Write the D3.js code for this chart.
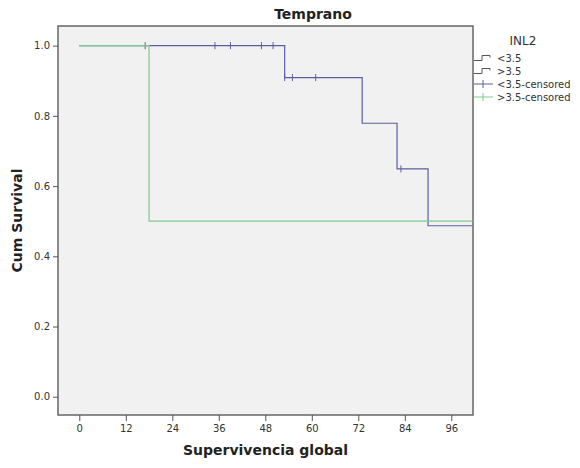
<!DOCTYPE html>
<html>
<head>
<meta charset="utf-8">
<script src="https://cdn.jsdelivr.net/npm/d3@7"></script>
<style>
  body { margin: 0; background: #fff; }
  text { font-family: "DejaVu Sans", sans-serif; fill: #333; }
</style>
</head>
<body>
<script>
// Kaplan-Meier steps
var lowTime = [0, 53, 73, 82, 90, 101.5],
    lowSurv = [1.0, 0.909, 0.779, 0.649, 0.487, 0.487],
    lowCensored = [17, 35, 39, 47, 50, 53, 55, 61, 83];

var highTime = [0, 18, 101.5],
    highSurv = [1.0, 0.5, 0.5];

var xTicks = [0, 12, 24, 36, 48, 60, 72, 84, 96],
    yTicks = [0.0, 0.2, 0.4, 0.6, 0.8, 1.0];

var legendLabels = ["<3.5", ">3.5", "<3.5-censored", ">3.5-censored"];

var width = 580,
    height = 468,
    plotLeft = 58, plotRight = 473, plotTop = 26, plotBottom = 415,
    blue = "#5b5e9f",
    green = "#7ccb88";

var svg = d3.select("body").append("svg")
    .attr("width", width)
    .attr("height", height);

var x = d3.scaleLinear().domain([-5.5, 101.6]).range([plotLeft, plotRight]),
    y = d3.scaleLinear().domain([-0.052, 1.056]).range([plotBottom, plotTop]);

svg.append("rect")
    .attr("x", plotLeft).attr("y", plotTop)
    .attr("width", plotRight - plotLeft).attr("height", plotBottom - plotTop)
    .attr("fill", "#f1f1f1")
    .attr("stroke", "#666")
    .attr("stroke-width", 1.5);

var xAxis = svg.append("g")
    .attr("transform", "translate(0," + plotBottom + ")")
    .call(d3.axisBottom(x).tickValues(xTicks).tickSize(6).tickPadding(4));
var yAxis = svg.append("g")
    .attr("transform", "translate(" + plotLeft + ",0)")
    .call(d3.axisLeft(y).tickValues(yTicks).tickSize(5).tickPadding(3).tickFormat(d3.format(".1f")));

[xAxis, yAxis].forEach(function(a) {
    a.select(".domain").remove();
    a.selectAll("line").attr("stroke", "#555");
    a.selectAll("text").attr("font-size", 10).attr("fill", "#444")
        .style("font-family", "DejaVu Sans, sans-serif");
});

var line = d3.line()
    .x(function(d) { return x(d[0]); })
    .y(function(d) { return y(d[1]); })
    .curve(d3.curveStepAfter);

var lowPts = d3.zip(lowTime, lowSurv),
    highPts = d3.zip(highTime, highSurv);

svg.append("path").datum(lowPts)
    .attr("d", line).attr("fill", "none")
    .attr("stroke", blue).attr("stroke-width", 1.2);

function survAt(t) {
    var i = d3.bisectRight(lowTime, t) - 1;
    return lowSurv[Math.max(i, 0)];
}

svg.selectAll(".cens").data(lowCensored).enter().append("line")
    .attr("x1", function(d) { return x(d); })
    .attr("x2", function(d) { return x(d); })
    .attr("y1", function(d) { return y(survAt(d)) - 3.5; })
    .attr("y2", function(d) { return y(survAt(d)) + 3.5; })
    .attr("stroke", blue).attr("stroke-width", 1);

svg.append("path").datum(highPts)
    .attr("d", line).attr("fill", "none")
    .attr("stroke", green).attr("stroke-width", 1.2);

// titles
svg.append("text")
    .attr("x", 313).attr("y", 19)
    .attr("text-anchor", "middle")
    .attr("font-size", 14).attr("font-weight", "bold")
    .style("fill", "#222")
    .text("Temprano");

svg.append("text")
    .attr("x", (plotLeft + plotRight) / 2).attr("y", 455)
    .attr("text-anchor", "middle")
    .attr("font-size", 14).attr("font-weight", "bold")
    .style("fill", "#222")
    .text("Supervivencia global");

svg.append("text")
    .attr("transform", "translate(22," + ((plotTop + plotBottom) / 2) + ") rotate(-90)")
    .attr("text-anchor", "middle")
    .attr("font-size", 14).attr("font-weight", "bold")
    .style("fill", "#222")
    .text("Cum Survival");

// legend
var lg = svg.append("g");
lg.append("text")
    .attr("x", 523).attr("y", 45)
    .attr("text-anchor", "middle")
    .attr("font-size", 12)
    .text("INL2");

var legColors = ["#555", "#555", blue, green];
legendLabels.forEach(function(lab, i) {
    var cy = 58 + i * 13;
    if (i < 2) {
        lg.append("path")
            .attr("d", "M474," + (cy + 2.5) + "H482V" + (cy - 2.5) + "H490V" + (cy - 0.5))
            .attr("fill", "none").attr("stroke", legColors[i]).attr("stroke-width", 1);
    } else {
        lg.append("path")
            .attr("d", "M474," + cy + "H493M483," + (cy - 4) + "V" + (cy + 4))
            .attr("fill", "none").attr("stroke", legColors[i]).attr("stroke-width", 1);
    }
    lg.append("text")
        .attr("x", 497).attr("y", cy + 3.5)
        .attr("font-size", 10)
        .attr("fill", "#333")
        .text(lab);
});
</script>
</body>
</html>
